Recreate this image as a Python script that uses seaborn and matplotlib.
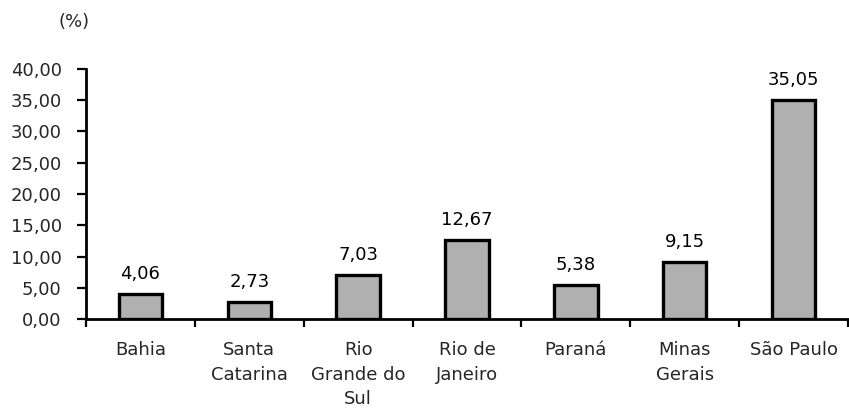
import matplotlib
matplotlib.use("Agg")
import matplotlib.pyplot as plt
import seaborn as sns
import pandas as pd
import numpy as np

estados = ["Bahia", "Santa\nCatarina", "Rio\nGrande do\nSul", "Rio de\nJaneiro",
           "Paraná", "Minas\nGerais", "São Paulo"]
percentuais = [4.06, 2.73, 7.03, 12.67, 5.38, 9.15, 35.05]
yticks = [0, 5, 10, 15, 20, 25, 30, 35, 40]

sns.set_theme(style="white")
plt.rcParams["font.family"] = ["DejaVu Sans"]

FS = 13

df = pd.DataFrame({"estado": estados, "pct": percentuais})

fig = plt.figure(figsize=(8.49, 4.11), dpi=100)
ax = fig.add_axes([86 / 849, 1 - 319 / 411, 762 / 849, (319 - 69) / 411])

sns.barplot(data=df, x="estado", y="pct", color="#b0b0b0", saturation=1,
            edgecolor="black", linewidth=2.4, width=0.4, ax=ax)

for i, v in enumerate(percentuais):
    ax.text(i, v + 2.4, f"{v:.2f}".replace(".", ","), ha="center", va="baseline",
            fontsize=FS, color="black")

ax.set_xlim(-0.5, len(estados) - 0.5)
ax.set_ylim(0, 40)
ax.set_yticks(yticks)
ax.set_yticklabels([f"{t:.2f}".replace(".", ",") for t in yticks], fontsize=FS)
ax.set_xticks(range(len(estados)))
ax.set_xticklabels(estados, fontsize=FS, linespacing=1.45)
ax.set_xticks(np.arange(-0.5, len(estados), 1.0), minor=True)
ax.tick_params(axis="x", which="major", length=0, pad=16)
ax.tick_params(axis="x", which="minor", length=6, width=1.6, direction="out",
               color="black", bottom=True)
ax.tick_params(axis="y", length=6.5, width=1.6, direction="out", color="black",
               left=True, pad=11)
ax.set_xlabel("")
ax.set_ylabel("")

for side in ["top", "right"]:
    ax.spines[side].set_visible(False)
for side in ["left", "bottom"]:
    ax.spines[side].set_color("black")
    ax.spines[side].set_linewidth(2)

fig.text(58 / 849, 1 - 22 / 411, "(%)", fontsize=FS, ha="left", va="center")

fig.savefig("out.png", dpi=100, facecolor="white")
